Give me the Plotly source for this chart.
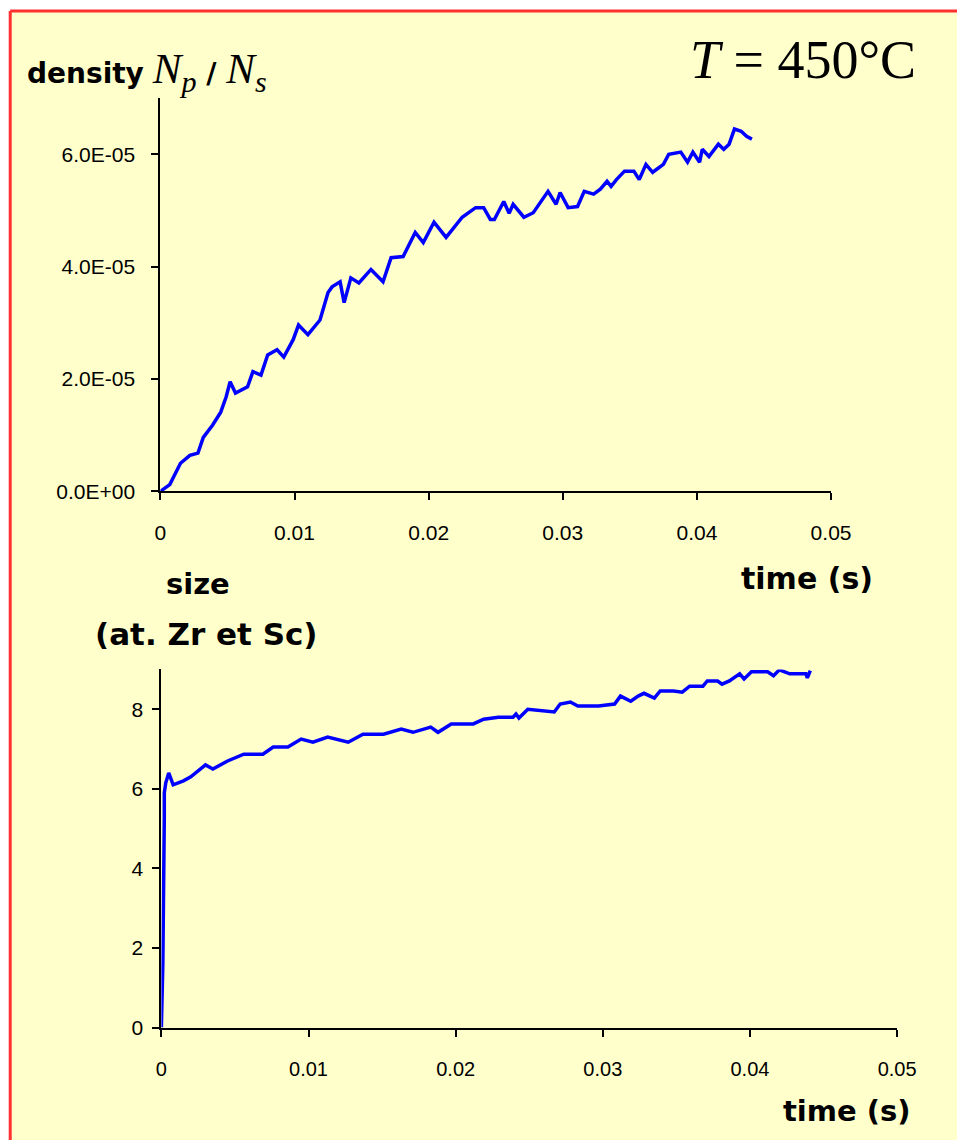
import plotly.graph_objects as go

# ---------------- data ----------------
t_density = [0, 0.0007, 0.0015, 0.0022, 0.0028, 0.0032, 0.0039, 0.0045, 0.0049, 0.0052,
             0.0056, 0.0065, 0.0069, 0.0075, 0.0080, 0.0087, 0.0092, 0.0099, 0.0103, 0.0110,
             0.0119, 0.0125, 0.0128, 0.0134, 0.0137, 0.0142, 0.0148, 0.0157, 0.0166, 0.0172,
             0.0181, 0.0190, 0.0196, 0.0204, 0.0213, 0.0225, 0.0235, 0.0241, 0.0246, 0.0249,
             0.0256, 0.0260, 0.0263, 0.0271, 0.0278, 0.0289, 0.0295, 0.0298, 0.0304, 0.0311,
             0.0316, 0.0323, 0.0328, 0.0333, 0.0336, 0.0340, 0.0346, 0.0353, 0.0357, 0.0362,
             0.0367, 0.0375, 0.0379, 0.0388, 0.0393, 0.0397, 0.0402, 0.0404, 0.0409, 0.0416,
             0.0420, 0.0424, 0.0428, 0.0433, 0.0437, 0.0441]
density_e5 = [0, 0.12, 0.5, 0.64, 0.68, 0.96, 1.18, 1.41, 1.68, 1.95,
              1.75, 1.86, 2.13, 2.07, 2.43, 2.52, 2.39, 2.70, 2.96, 2.79,
              3.05, 3.54, 3.64, 3.73, 3.36, 3.80, 3.71, 3.95, 3.73, 4.16,
              4.18, 4.61, 4.43, 4.79, 4.52, 4.88, 5.05, 5.05, 4.84, 4.84,
              5.16, 4.95, 5.11, 4.88, 4.96, 5.34, 5.11, 5.32, 5.05, 5.07,
              5.34, 5.29, 5.38, 5.52, 5.43, 5.55, 5.70, 5.70, 5.55, 5.82,
              5.68, 5.82, 6.00, 6.04, 5.86, 6.04, 5.86, 6.09, 5.96, 6.18,
              6.09, 6.18, 6.45, 6.41, 6.32, 6.27]
density = [v * 1e-5 for v in density_e5]

t_size = [0, 0.0001, 0.0002, 0.0002, 0.0003, 0.0005, 0.0008, 0.0015, 0.0020, 0.0024,
          0.0030, 0.0035, 0.0045, 0.0056, 0.0069, 0.0076, 0.0086, 0.0095, 0.0103, 0.0113,
          0.0127, 0.0137, 0.0151, 0.0163, 0.0171, 0.0183, 0.0188, 0.0197, 0.0212, 0.0219,
          0.0229, 0.0239, 0.0241, 0.0243, 0.0249, 0.0267, 0.0271, 0.0278, 0.0283, 0.0297,
          0.0308, 0.0312, 0.0319, 0.0324, 0.0328, 0.0335, 0.0339, 0.0348, 0.0354, 0.0359,
          0.0368, 0.0371, 0.0378, 0.0381, 0.0386, 0.0393, 0.0396, 0.0401, 0.0412, 0.0416,
          0.0420, 0.0427, 0.0438, 0.0439, 0.0441]
size = [0, 1.6, 5.3, 5.9, 6.15, 6.4, 6.1, 6.2, 6.3, 6.43,
        6.6, 6.5, 6.7, 6.87, 6.87, 7.05, 7.05, 7.25, 7.17, 7.3,
        7.17, 7.37, 7.37, 7.5, 7.42, 7.55, 7.42, 7.63, 7.63, 7.75,
        7.8, 7.8, 7.88, 7.78, 8.0, 7.93, 8.13, 8.18, 8.08, 8.08,
        8.13, 8.33, 8.2, 8.33, 8.4, 8.28, 8.46, 8.46, 8.43, 8.58,
        8.58, 8.71, 8.71, 8.63, 8.71, 8.89, 8.76, 8.94, 8.94, 8.84,
        8.99, 8.89, 8.89, 8.79, 8.97]

x_ticks = [0, 0.01, 0.02, 0.03, 0.04, 0.05]
x_ticktext = ["0", "0.01", "0.02", "0.03", "0.04", "0.05"]
dens_ticks = [0, 2e-5, 4e-5, 6e-5]
dens_ticktext = ["0.0E+00", "2.0E-05", "4.0E-05", "6.0E-05"]
size_ticks = [0, 2, 4, 6, 8]
size_ticktext = ["0", "2", "4", "6", "8"]

# ---------------- layout helpers ----------------
# measured mapping between page pixels and the photographed picture
SX, CX, SY = 0.973, 6.0, 0.99
OFF = 8
W, H = 1000, 1160
BG = "#FFFFCC"


def px(x):
    return ((x - CX) / SX - OFF) / W


def py(y):
    return 1 - (y / SY - OFF) / H


fig = go.Figure()
fig.add_trace(go.Scatter(x=t_density, y=density, mode="lines",
                         line=dict(color="#0000FF", width=3.5), xaxis="x", yaxis="y",
                         showlegend=False))
fig.add_trace(go.Scatter(x=t_size, y=size, mode="lines",
                         line=dict(color="#0000FF", width=3.5), xaxis="x2", yaxis="y2",
                         showlegend=False))

axis_common = dict(showgrid=False, zeroline=False, showline=True, linecolor="black",
                   linewidth=2, ticks="outside", tickcolor="black", tickwidth=2,
                   ticklen=7, fixedrange=True)

tick_font = dict(family="Liberation Sans, Arial, sans-serif", size=21, color="black")
tick_font_narrow = dict(family="Liberation Sans Narrow, Liberation Sans, sans-serif",
                        size=20, color="black")

fig.update_layout(
    width=W, height=H,
    margin=dict(l=0, r=0, t=0, b=0),
    paper_bgcolor=BG,
    plot_bgcolor="rgba(0,0,0,0)",
    xaxis=dict(domain=[px(160), px(830)], range=[0, 0.05], anchor="y",
               tickvals=x_ticks, ticktext=x_ticktext, tickfont=tick_font,
               ticklabelstandoff=14, **axis_common),
    yaxis=dict(domain=[py(491), py(98)], range=[0, 7e-5], anchor="x",
               tickvals=dens_ticks, ticktext=dens_ticktext, tickfont=tick_font,
               ticklabelstandoff=12, **axis_common),
    xaxis2=dict(domain=[px(161), px(896)], range=[0, 0.05], anchor="y2",
                tickvals=x_ticks, ticktext=x_ticktext, tickfont=tick_font_narrow,
                ticklabelstandoff=15, **axis_common),
    yaxis2=dict(domain=[py(1027), py(669)], range=[0, 9], anchor="x2",
                tickvals=size_ticks, ticktext=size_ticktext, tickfont=tick_font,
                ticklabelstandoff=5, **axis_common),
)

# white margin above/left of the red frame
fig.add_shape(type="rect", xref="paper", yref="paper",
              x0=px(-40), x1=px(1100), y0=py(11), y1=py(-40),
              fillcolor="white", line=dict(width=0), layer="below")
fig.add_shape(type="rect", xref="paper", yref="paper",
              x0=px(-40), x1=px(10), y0=py(1250), y1=py(-40),
              fillcolor="white", line=dict(width=0), layer="below")
# red frame (top and left edges visible)
fig.add_shape(type="line", xref="paper", yref="paper",
              x0=px(10), x1=px(1100), y0=py(11), y1=py(11),
              line=dict(color="#FF3030", width=3), layer="below")
fig.add_shape(type="line", xref="paper", yref="paper",
              x0=px(10), x1=px(10), y0=py(11), y1=py(1250),
              line=dict(color="#FF3030", width=3), layer="below")

bold_font = "DejaVu Sans, sans-serif"
serif = "Liberation Serif, Times New Roman, serif"

annotations = [
    dict(x=px(25), y=py(72), xanchor="left", yanchor="middle",
         text=("<b>density</b> <span style='font-family:Liberation Serif;font-size:43px'>"
               "<i>N<sub>p</sub></i></span><b> / </b>"
               "<span style='font-family:Liberation Serif;font-size:43px'><i>N<sub>s</sub></i></span>"),
         font=dict(family=bold_font, size=28, color="black")),
    dict(x=px(917), y=py(60), xanchor="right", yanchor="middle",
         text="<i>T</i> = 450°C",
         font=dict(family=serif, size=54, color="black")),
    dict(x=px(874), y=py(578), xanchor="right", yanchor="middle",
         text="<b>time (s)</b>",
         font=dict(family=bold_font, size=30, color="black")),
    dict(x=px(198), y=py(584), xanchor="center", yanchor="middle",
         text="<b>size</b>",
         font=dict(family=bold_font, size=29, color="black")),
    dict(x=px(206), y=py(634), xanchor="center", yanchor="middle",
         text="<b>(at. Zr et Sc)</b>",
         font=dict(family=bold_font, size=31, color="black")),
    dict(x=px(912), y=py(1110), xanchor="right", yanchor="middle",
         text="<b>time (s)</b>",
         font=dict(family=bold_font, size=29, color="black")),
]
for a in annotations:
    a.update(xref="paper", yref="paper", showarrow=False)
fig.update_layout(annotations=annotations)

fig.write_html("out.html")
